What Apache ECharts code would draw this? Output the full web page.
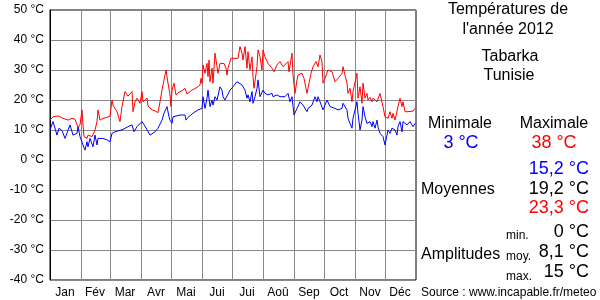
<!DOCTYPE html>
<html><head><meta charset="utf-8">
<script src="https://cdn.jsdelivr.net/npm/echarts@6/dist/echarts.min.js"></script>
<style>html,body{margin:0;padding:0;background:#fff}#c{width:600px;height:300px}</style>
</head><body><div id="c"></div>
<script>
const monthNames = ['Jan','Fév','Mar','Avr','Mai','Jui','Jui','Aoû','Sep','Oct','Nov','Déc'];
const monthStarts = [31,60,91,121,152,182,213,244,274,305,335];
const monthMids = [15,45,75,106,136,167,197,228,259,289,320,350];
const yTicks = {min: -40, max: 50, step: 10};

const maxDays = [0,3,8,13,18,22,25,28,30,32,33,34,37,38,42,44,45,47,48,50,53,57,60,62,63,67,70,72,75,78,82,83,85,87,90,92,93,97,98,102,105,108,110,112,114,116,118,120,121,122,124,126,128,132,135,137,142,147,150,151,152,153,155,157,158,159,160,162,163,165,167,168,170,172,174,176,177,178,181,185,188,190,192,193,195,197,198,200,202,203,204,207,208,210,212,213,215,218,222,224,227,230,233,235,238,239,242,243,245,247,248,252,254,257,258,261,263,266,268,270,272,273,275,277,278,282,283,285,288,292,293,295,297,298,300,302,303,305,307,308,310,312,313,315,317,318,320,322,323,327,330,332,333,335,337,338,340,342,343,345,348,350,352,353,355,358,363,365];
const maxTemps = [13.3,14.4,14.7,13.9,13.3,13.9,13.6,10.9,11.7,16.7,11.7,7.8,7.2,8.3,7.8,8,10,12.8,16.7,13.3,13.9,14.2,14.7,20,18.3,16.1,12.8,17.8,22.8,21.3,22.8,16.1,19.4,20.6,18.9,22.8,19.4,20.6,18,16.7,16.4,15.8,19.4,23.3,23.9,30,25.6,21.7,17.8,23.3,25.6,21.7,22.4,23.1,23.9,22,23.3,24.2,25,27.2,25.6,31.7,28.9,32.2,27.8,33.3,26.1,30.6,25.6,35.6,31.1,28.9,32.2,32.8,32.2,30.6,28.3,30.6,33.9,33.9,33.9,37.8,35.6,33.3,37.8,30.6,36.1,30,34.4,27.8,23.9,31.1,36.7,34.4,30,36.7,34.4,32.2,30.6,29.4,31.7,32.8,31.1,31.7,32.8,29.4,35.6,28.3,22.2,26.7,28.3,28.9,27.2,22.2,23.9,28.9,31.1,32.8,31.1,35,32.8,25.6,27.2,27.8,30,29.4,28.3,26.1,27.2,28.9,31.1,28.3,25.6,22.2,23.9,19.4,22.8,22.2,28.9,20.6,24.4,18.9,25.6,20.6,22.2,20,20.9,19.4,20.6,19.4,22.2,22.8,17.8,14.4,15,13.9,16.1,13.9,15.6,13.3,17.8,20.6,17.8,19.4,16.1,16.1,16.3,17.2];

const minDays = [0,3,7,9,12,15,20,23,27,28,30,32,33,35,37,38,40,42,43,45,47,48,50,53,57,60,62,65,73,78,82,84,87,92,95,100,105,108,112,114,117,119,120,122,123,125,130,135,136,138,143,148,152,153,155,157,158,160,162,163,165,167,170,172,173,175,177,180,183,187,188,192,195,197,198,200,202,203,205,207,208,210,212,213,215,218,222,223,227,230,235,238,240,242,244,247,250,253,255,257,258,260,262,265,267,268,270,272,273,277,278,280,285,288,292,293,297,298,300,302,303,305,307,308,310,312,313,315,317,318,320,322,323,325,327,328,330,332,333,335,337,338,340,342,345,347,348,350,352,353,357,360,363,365];
const minTemps = [10,12.8,8.3,10.6,9.8,7.2,11.7,8.3,8.9,11.1,7.8,8.3,5,3.3,6.1,4.4,7.2,6.7,4.4,8.3,5,7.2,7.8,7.2,6.7,6.1,8.9,9.4,10.2,11.1,11.7,9.4,11.1,12.8,11.3,8.3,9.4,10.6,13.3,15.6,17.8,14.4,13.3,12.2,14.4,15,15,15,13.3,14.2,15.6,16.7,17.2,21.1,17.2,20.6,23.3,17.8,20,18.3,21.1,20,24.4,23.3,21.1,20,19.4,23.3,24.4,26.1,26.7,25,23.3,20.6,21.7,19.4,22.8,18.9,21.1,23.9,26.7,21.1,20.6,23.3,22.2,21.7,22.2,21.1,21.7,21.1,21.1,22.2,19.4,21.1,15,17.2,19.4,18.3,18.9,16.1,17.2,16.7,18.3,21.1,19.4,21.1,19.4,18.9,16.7,20,20.6,17.8,17.2,16.7,17.2,18.9,16.7,13.9,12.2,10.6,13.9,13.3,19.4,15.6,10,13.3,17.8,14.4,12.2,11.7,12.8,11.1,12.8,10.6,13.3,11.1,8.9,9.4,7.8,5,8.3,10,8.9,10.6,10,8.3,11.1,12.8,9.4,12.8,11.7,12.8,11.1,12.2];

const FONT = '"Liberation Sans", Arial, sans-serif';
const dayCats = Array.from({length: 367}, (_, i) => String(i));

const chart = echarts.init(document.getElementById('c'), null, {renderer: 'canvas'});

function txt(x, y, text, size, color, align) {
  return {type: 'text', x: x, y: y, silent: true,
    style: {text: text, fill: color, font: size + 'px ' + FONT, textAlign: align || 'center', textVerticalAlign: 'middle'}};
}

chart.setOption({
  animation: false,
  backgroundColor: '#fff',
  grid: {left: 50, top: 10, width: 366, height: 270, show: true, borderColor: '#000', borderWidth: 1, backgroundColor: 'transparent'},
  xAxis: [
    {type: 'value', min: 0, max: 366, show: false},
    {type: 'category', data: dayCats, boundaryGap: false, position: 'bottom',
      axisLine: {show: false}, axisTick: {show: false},
      splitLine: {show: true, interval: (i) => monthStarts.indexOf(i) >= 0, lineStyle: {color: '#888', width: 1}},
      axisLabel: {interval: (i) => monthMids.indexOf(i) >= 0, formatter: (v, i) => monthNames[monthMids.indexOf(Number(v))] || '',
        color: '#000', fontSize: 12, fontFamily: FONT, margin: 7}}
  ],
  yAxis: {type: 'value', min: yTicks.min, max: yTicks.max, interval: yTicks.step,
    axisLine: {show: true, lineStyle: {color: '#000'}}, axisTick: {show: false},
    splitLine: {show: true, lineStyle: {color: '#888', width: 1}},
    axisLabel: {formatter: '{value} °C', color: '#000', fontSize: 12, fontFamily: FONT, margin: 6}},
  series: [
    {type: 'line', xAxisIndex: 0, data: maxDays.map((d, i) => [d, maxTemps[i]]), symbol: 'none',
      lineStyle: {color: '#ff0000', width: 1}, z: 3},
    {type: 'line', xAxisIndex: 0, data: minDays.map((d, i) => [d, minTemps[i]]), symbol: 'none',
      lineStyle: {color: '#0000ff', width: 1}, z: 4}
  ],
  graphic: [
    txt(508, 10, 'Températures de', 16, '#000'),
    txt(508, 30, "l'année 2012", 16, '#000'),
    txt(510, 57, 'Tabarka', 16, '#000'),
    txt(509, 76, 'Tunisie', 16, '#000'),
    txt(460, 124, 'Minimale', 16, '#000'),
    txt(554, 124, 'Maximale', 16, '#000'),
    txt(461, 143, '3 °C', 18, '#0000ff'),
    txt(554, 143, '38 °C', 18, '#ff0000'),
    txt(589, 169, '15,2 °C', 18, '#0000ff', 'right'),
    txt(421, 190, 'Moyennes', 16, '#000', 'left'),
    txt(589, 189, '19,2 °C', 18, '#000', 'right'),
    txt(589, 208, '23,3 °C', 18, '#ff0000', 'right'),
    txt(506, 236, 'min.', 12, '#000', 'left'),
    txt(589, 232, '0 °C', 18, '#000', 'right'),
    txt(421, 255, 'Amplitudes', 16, '#000', 'left'),
    txt(506, 257, 'moy.', 12, '#000', 'left'),
    txt(589, 252, '8,1 °C', 18, '#000', 'right'),
    txt(506, 277, 'max.', 12, '#000', 'left'),
    txt(589, 272, '15 °C', 18, '#000', 'right'),
    txt(421, 293, 'Source : www.incapable.fr/meteo', 12, '#000', 'left')
  ]
});
</script></body></html>
